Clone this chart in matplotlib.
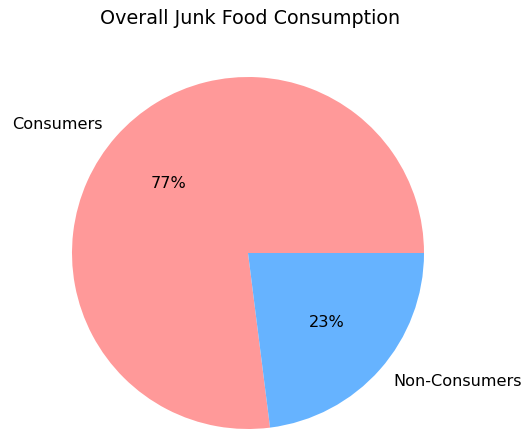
import matplotlib
matplotlib.use("Agg")
import matplotlib.pyplot as plt

labels = ["Consumers", "Non-Consumers"]
shares = [77, 23]
colors = ["#ff9999", "#66b3ff"]

W, H = 522, 429
fig = plt.figure(figsize=(W / 100, H / 100), dpi=100)

# pie radius ~176 px, centre ~ (248, 176) from bottom; axes limits are +-1.25
r = 176
side = 2.5 * r
cx, cy = 248, 176
ax = fig.add_axes([(cx - side / 2) / W, (cy - side / 2) / H, side / W, side / H])
ax.pie(shares, labels=labels, colors=colors, autopct="%1.0f%%",
       textprops={"fontsize": 11.6})
ax.set_aspect("equal")

fig.text(cx / W + 0.004, 1 - 18 / H, "Overall Junk Food Consumption",
         ha="center", va="center", fontsize=13.8)

fig.savefig("out.png", dpi=100)
